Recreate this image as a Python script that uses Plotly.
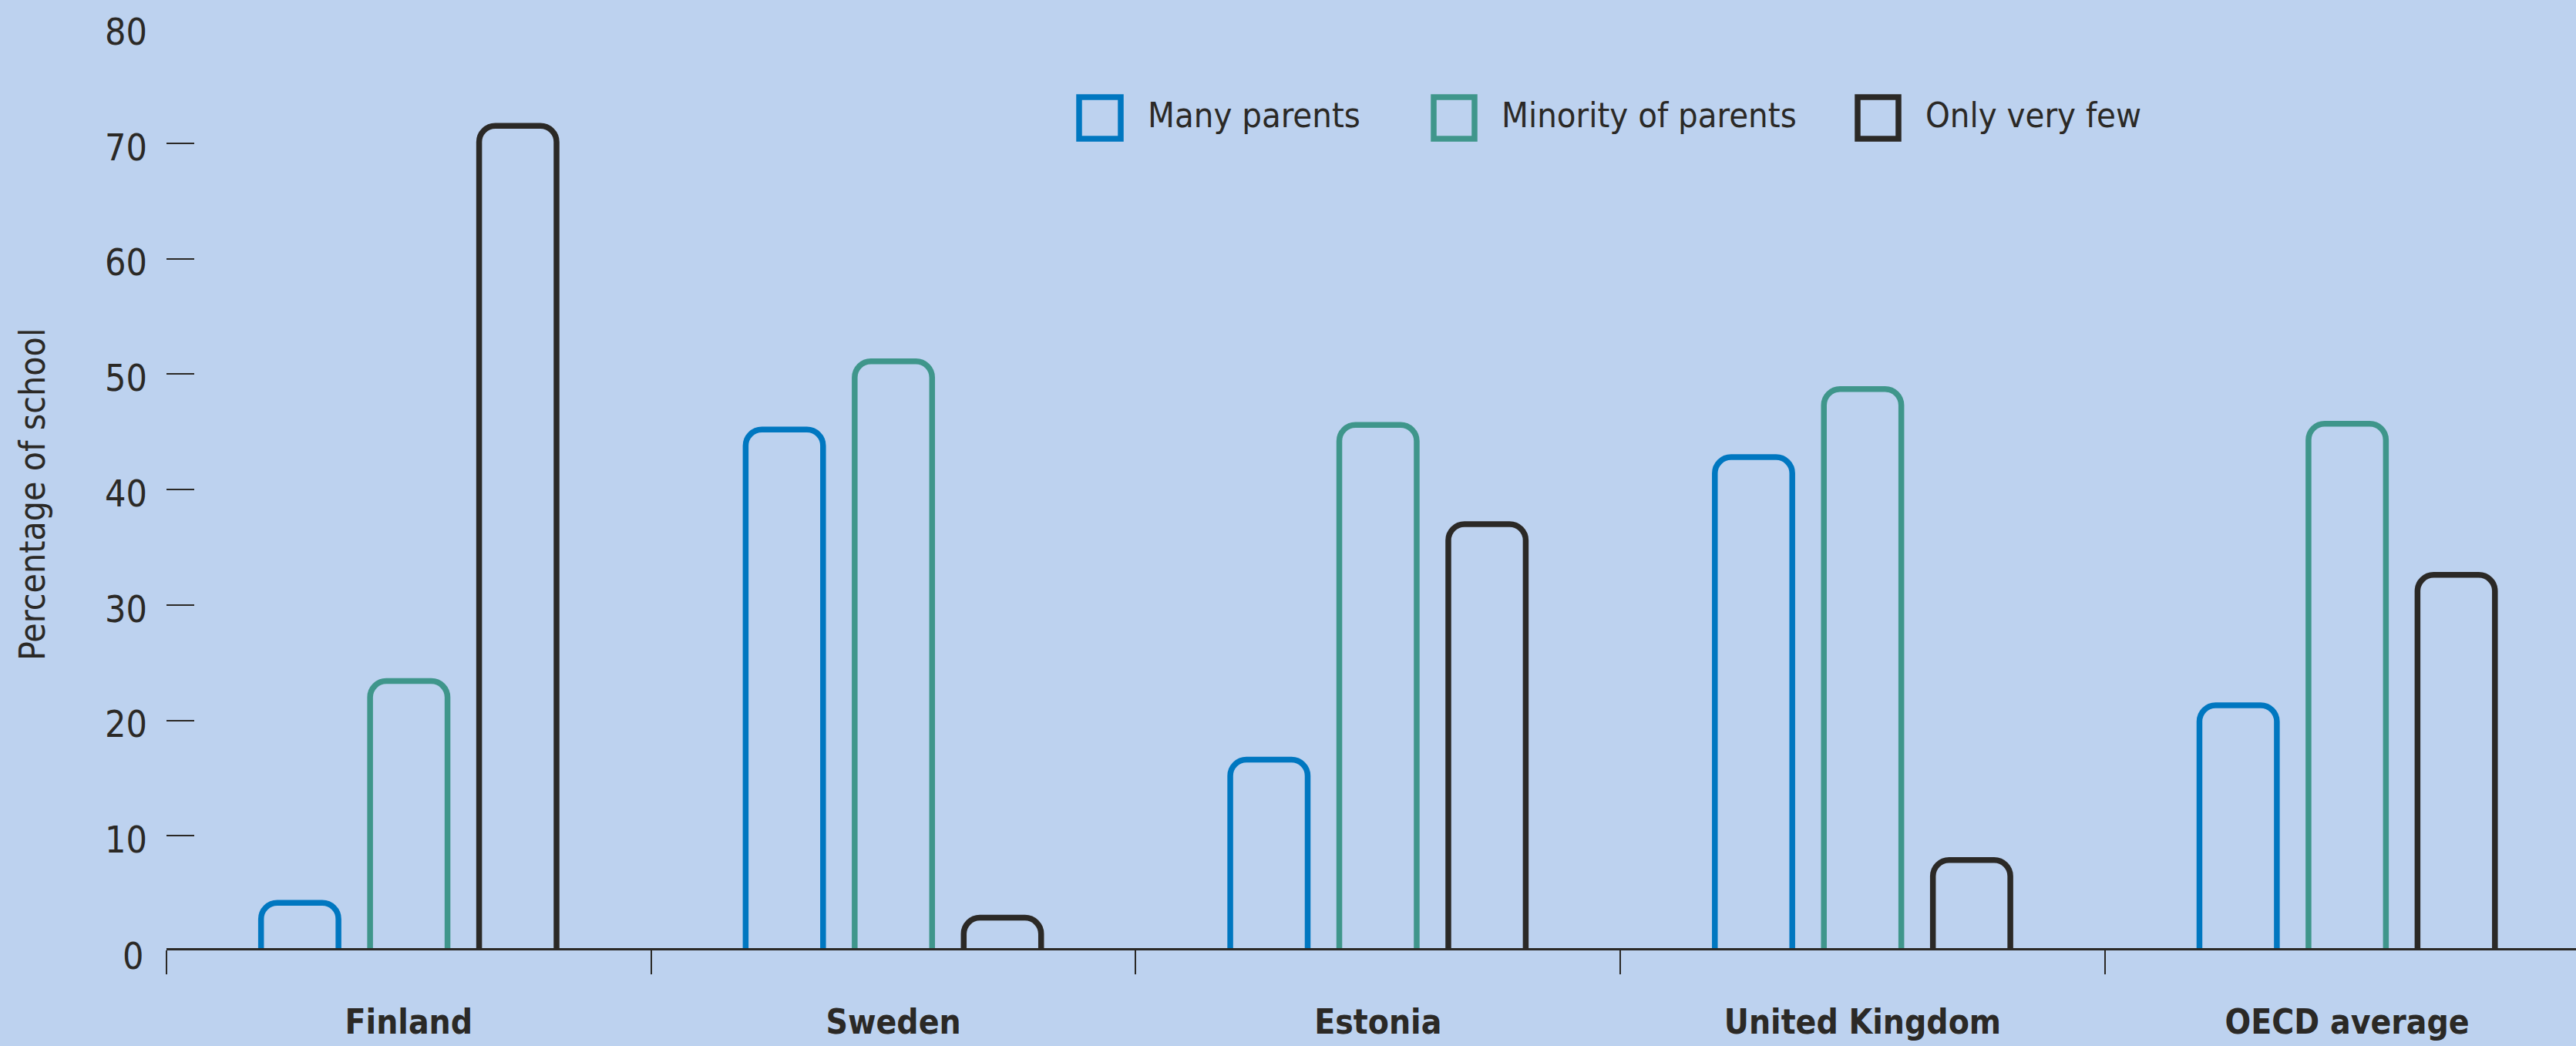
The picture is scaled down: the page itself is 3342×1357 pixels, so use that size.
import plotly.graph_objects as go

# ---------------- data ----------------
categories = ["Finland", "Sweden", "Estonia", "United Kingdom", "OECD average"]
series_names = ["Many parents", "Minority of parents", "Only very few"]
many_parents = [4.2, 45.2, 16.6, 42.8, 21.3]
minority_of_parents = [23.4, 51.1, 45.6, 48.7, 45.7]
only_very_few = [71.5, 2.9, 37.0, 7.9, 32.6]
y_tick_values = [0, 10, 20, 30, 40, 50, 60, 70, 80]
y_tick_labels = ["0", "10", "20", "30", "40", "50", "60", "70", "80"]
y_axis_title = "Percentage of school"

# ---------------- style ----------------
colors = ["#0077C0", "#3F968B", "#2B2926"]
BG = "#BDD2EF"
TEXT = "#2B2926"
FONT = "DejaVu Sans Condensed, Liberation Sans Narrow, sans-serif"

W, H = 3342, 1357
L, R, T, B = 216, 0, 36, 127
PW = W - L - R
PH = H - T - B
CAT_PX = 628.7


def px(xp):
    return (xp - L) / PW


def py(yp):
    return (H - B - yp) / PH


fig = go.Figure()
for name, vals, col in zip(series_names, [many_parents, minority_of_parents, only_very_few], colors):
    fig.add_trace(go.Bar(
        x=categories, y=vals, name=name,
        marker=dict(color="rgba(0,0,0,0)", line=dict(color=col, width=7.5), cornerradius=21),
        showlegend=False, hoverinfo="skip",
    ))

shapes = []
annotations = []

# legend (manual, large boxes)
legend_boxes = [(1400, 1454), (1860, 1913), (2410, 2463)]
legend_text_x = [1487, 1946, 2496]
for name, col, (bx0, bx1), tx in zip(series_names, colors, legend_boxes, legend_text_x):
    shapes.append(dict(type="rect", xref="paper", yref="paper",
                       x0=px(bx0), x1=px(bx1), y0=py(180), y1=py(126),
                       line=dict(color=col, width=7.5), fillcolor="rgba(0,0,0,0)", layer="above"))
    annotations.append(dict(text=name, xref="paper", yref="paper", x=px(tx), y=py(150),
                            xanchor="left", yanchor="middle", showarrow=False,
                            font=dict(family=FONT, size=45, color=TEXT)))

# y-axis title
annotations.append(dict(text=y_axis_title, xref="paper", yref="paper", x=px(42), y=py(642),
                        xanchor="center", yanchor="middle", textangle=-90, showarrow=False,
                        font=dict(family=FONT, size=46, color=TEXT)))

# "0" tick label (the zero baseline sits just below the visible axis range)
annotations.append(dict(text=y_tick_labels[0], xref="paper", yref="paper", x=px(188), y=py(1240),
                        xanchor="right", yanchor="middle", showarrow=False,
                        font=dict(family=FONT, size=48, color=TEXT)))

fig.update_layout(
    width=W, height=H,
    margin=dict(l=L, r=R, t=T, b=B, pad=0),
    paper_bgcolor=BG, plot_bgcolor=BG,
    barmode="group", bargap=0.325, bargroupgap=0.29,
    shapes=shapes, annotations=annotations,
    showlegend=False,
    xaxis=dict(
        type="category", range=[-0.5, -0.5 + PW / CAT_PX],
        tickson="boundaries", ticks="outside", ticklen=31, tickwidth=2, tickcolor=TEXT,
        showline=True, linecolor=TEXT, linewidth=2.5,
        showgrid=False, zeroline=False,
        tickfont=dict(family=FONT, size=44, color=TEXT, weight="bold"),
        ticklabelstandoff=55,
        fixedrange=True,
    ),
    yaxis=dict(
        range=[0.27, 80], tickmode="array", tickvals=y_tick_values, ticktext=y_tick_labels,
        ticks="inside", ticklen=36, tickwidth=2, tickcolor=TEXT,
        showline=False, showgrid=False, zeroline=False,
        tickfont=dict(family=FONT, size=48, color=TEXT),
        ticklabelstandoff=24, ticklabelshift=5,
        fixedrange=True,
    ),
)

fig.write_html("out.html", config={"displayModeBar": False},
               post_script="document.body.style.margin='0';document.body.style.overflow='hidden';")
